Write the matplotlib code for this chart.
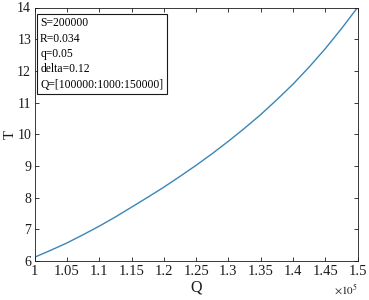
import matplotlib
matplotlib.use("Agg")
import matplotlib.pyplot as plt
from matplotlib.ticker import FuncFormatter

plt.rcParams["font.family"] = ["Liberation Serif", "DejaVu Serif"]
plt.rcParams["mathtext.fontset"] = "stix"

# Q values (x 1e5) and T
q_vals = [1.000, 1.025, 1.050, 1.075, 1.100, 1.125, 1.150, 1.175, 1.200, 1.225, 1.250,
          1.275, 1.300, 1.325, 1.350, 1.375, 1.400, 1.425, 1.450, 1.475, 1.500]
t_vals = [6.12, 6.34, 6.57, 6.83, 7.10, 7.39, 7.70, 8.01, 8.33, 8.67, 9.02,
          9.39, 9.78, 10.19, 10.62, 11.09, 11.58, 12.12, 12.70, 13.33, 14.00]
x_ticks = [1.0, 1.05, 1.1, 1.15, 1.2, 1.25, 1.3, 1.35, 1.4, 1.45, 1.5]
y_ticks = [6, 7, 8, 9, 10, 11, 12, 13, 14]
params = ["S=200000", "R=0.034", "q=0.05", "delta=0.12", "Q=[100000:1000:150000]"]

q_abs = [v * 1e5 for v in q_vals]
dark = "#1a1a1a"

fig = plt.figure(figsize=(3.69, 3.0), dpi=100)
ax = fig.add_axes([0.094, 0.13, 0.875, 0.845])
ax.plot(q_abs, t_vals, color="#3a86b8", linewidth=1.0)

ax.set_xlim(1e5, 1.5e5)
ax.set_ylim(6, 14)
ax.set_xticks([v * 1e5 for v in x_ticks])
ax.set_yticks(y_ticks)
ax.xaxis.set_major_formatter(FuncFormatter(lambda v, p: f"{v / 1e5:g}"))
ax.tick_params(direction="in", top=True, right=True, length=3, width=0.6,
               labelsize=10.5, colors=dark, pad=3)
ax.tick_params(axis="y", labelsize=10, pad=2.5)
for s in ax.spines.values():
    s.set_color(dark)
    s.set_linewidth(0.6)

ax.set_xlabel("Q", fontsize=11.5, color=dark, labelpad=1)
ax.set_ylabel("T", fontsize=10.5, color=dark)
ax.yaxis.set_label_coords(-0.055, 0.5)
ax.text(1.0, -0.085, r"$\times10^5$", transform=ax.transAxes, ha="right", va="top",
        fontsize=8, color=dark)

ax.text(0.017, 0.962, "\n".join(params), transform=ax.transAxes, ha="left", va="top",
        fontsize=8.4, color="black", linespacing=1.38,
        bbox=dict(boxstyle="square,pad=0.3", facecolor="white", edgecolor=dark, linewidth=0.8))

fig.savefig("out.png", dpi=100)
